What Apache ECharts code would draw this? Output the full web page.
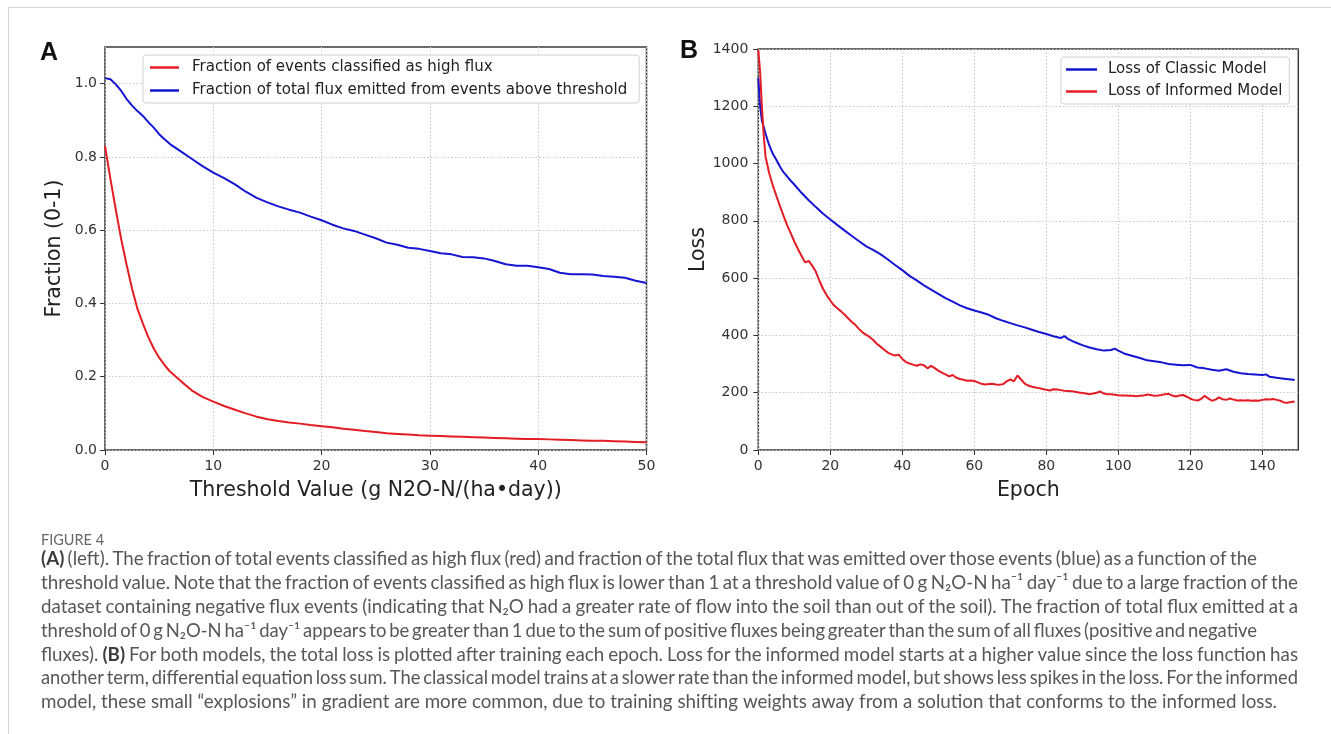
<!DOCTYPE html>
<html>
<head>
<meta charset="utf-8">
<script src="https://cdn.jsdelivr.net/npm/echarts@6/dist/echarts.min.js"></script>
<style>
html,body{margin:0;padding:0;background:#fff;}
#chart{width:1331px;height:734px;}
</style>
</head>
<body>
<div id="chart"></div>
<script>
// ---------- Panel A data ----------
const aThreshold = [0,0.5,1,1.5,2,2.5,3,3.5,4,4.5,5,5.5,6,7,8,9,10,11,12,13,14,15,16,17,18,19,20,21,22,23,24,25,26,27,28,29,30,31,32,33,34,35,36,37,38,39,40,41,42,43,44,45,46,47,48,49,50];
const aHighFluxFrac = [0.83,0.74,0.655,0.575,0.505,0.44,0.385,0.345,0.308,0.277,0.252,0.232,0.214,0.188,0.163,0.145,0.132,0.12,0.11,0.1,0.091,0.084,0.079,0.075,0.072,0.068,0.065,0.062,0.058,0.055,0.052,0.049,0.046,0.044,0.042,0.040,0.039,0.038,0.037,0.036,0.035,0.034,0.033,0.032,0.031,0.030,0.030,0.029,0.028,0.027,0.026,0.025,0.025,0.024,0.023,0.022,0.021];
const aTotalFluxFrac = [1.015,1.012,0.998,0.98,0.958,0.94,0.925,0.912,0.895,0.88,0.862,0.848,0.835,0.815,0.795,0.775,0.757,0.742,0.725,0.705,0.688,0.676,0.665,0.656,0.648,0.637,0.627,0.615,0.605,0.598,0.588,0.578,0.566,0.56,0.552,0.549,0.543,0.537,0.534,0.527,0.526,0.523,0.516,0.507,0.503,0.503,0.499,0.494,0.484,0.48,0.48,0.479,0.475,0.473,0.47,0.462,0.456];
const aXTicks = [0,10,20,30,40,50];
const aYTicks = [0,0.2,0.4,0.6,0.8,1.0];

// ---------- Panel B data ----------
const bClassicEpoch = [0,0.5,1,2,3,4,5,6,7,8,9,10,12,14,16,18,20,22,24,26,28,30,32,34,36,38,40,42,44,46,48,50,52,54,56,58,60,62,64,66,68,70,72,74,76,78,80,82,84,85,86,88,90,92,94,96,98,99,100,102,104,106,108,110,112,114,116,118,120,122,124,126,128,130,132,134,136,138,140,141,142,144,146,148,149];
const bClassicLoss = [1300,1200,1150,1105,1065,1035,1013,990,970,955,940,927,898,872,848,825,805,785,766,747,729,711,698,683,665,646,628,608,592,575,560,545,530,518,505,495,487,480,472,460,451,443,435,428,420,412,405,397,391,398,388,376,366,358,352,347,349,354,347,335,328,321,313,310,306,300,298,296,297,288,285,280,277,282,273,268,265,264,262,264,256,252,249,246,244];
const bInformedEpoch = [0,0.5,1,1.5,2,3,4,5,6,7,8,9,10,11,12,13,14,15,16,17,18,19,20,21,22,23,24,25,26,27,28,29,30,31,32,33,34,35,36,37,38,39,40,41,42,43,44,45,46,47,48,49,50,51,52,53,54,55,56,57,58,59,60,61,62,63,64,65,66,67,68,69,70,71,72,73,74,75,76,77,78,79,80,81,82,83,84,85,86,87,88,89,90,91,92,93,94,95,96,97,98,99,100,101,102,103,104,105,106,107,108,109,110,111,112,113,114,115,116,117,118,119,120,121,122,123,124,125,126,127,128,129,130,131,132,133,134,135,136,137,138,139,140,141,142,143,144,145,146,147,148,149];
const bInformedLoss = [1397,1320,1200,1100,1025,968,925,888,852,818,785,757,728,702,678,655,660,643,622,590,562,540,522,505,494,484,472,459,447,436,422,410,402,394,383,370,360,350,340,334,330,333,318,307,302,298,294,299,296,285,294,286,277,270,264,257,262,252,248,245,242,243,241,236,231,229,230,231,229,228,230,240,247,240,260,246,232,225,221,218,216,213,210,208,212,211,209,207,206,205,203,201,199,197,195,197,200,204,197,195,195,193,191,190,190,189,189,188,189,190,194,192,189,190,192,195,196,190,187,190,192,186,179,175,173,178,189,180,172,176,184,177,175,180,176,173,174,173,174,172,173,172,175,177,176,178,175,172,166,165,168,169];
const bXTicks = [0,20,40,60,80,100,120,140];
const bYTicks = [0,200,400,600,800,1000,1200,1400];

// ---------- Text ----------
const aLegend = ['Fraction of events classified as high flux','Fraction of total flux emitted from events above threshold'];
const bLegend = ['Loss of Classic Model','Loss of Informed Model'];
const captionTitle = 'FIGURE 4';
const captionLines = [
 '(A) (left). The fraction of total events classified as high flux (red) and fraction of the total flux that was emitted over those events (blue) as a function of the',
 'threshold value. Note that the fraction of events classified as high flux is lower than 1 at a threshold value of 0 g N\u2082O-N ha\u207B\u00B9 day\u207B\u00B9 due to a large fraction of the',
 'dataset containing negative flux events (indicating that N\u2082O had a greater rate of flow into the soil than out of the soil). The fraction of total flux emitted at a',
 'threshold of 0 g N\u2082O-N ha\u207B\u00B9 day\u207B\u00B9 appears to be greater than 1 due to the sum of positive fluxes being greater than the sum of all fluxes (positive and negative',
 'fluxes). (B) For both models, the total loss is plotted after training each epoch. Loss for the informed model starts at a higher value since the loss function has',
 'another term, differential equation loss sum. The classical model trains at a slower rate than the informed model, but shows less spikes in the loss. For the informed',
 'model, these small \u201Cexplosions\u201D in gradient are more common, due to training shifting weights away from a solution that conforms to the informed loss.'
];
const captionEnds = [1257,1298,1298,1257,1298,1298,1277];
const boldWords = ['(A)','(B)'];

const zip = (xs, ys) => xs.map((x, i) => [x, ys[i]]);

const FONT = 'DejaVu Sans';
const CAP_FONT = 'Lato';
const TICK_COLOR = '#333';

function axisCommon(extra) {
  return Object.assign({
    type: 'value',
    axisLine: {show: false},
    splitLine: {show: true, lineStyle: {color: '#c8c8c8', type: [1.5, 2], width: 1}},
    nameLocation: 'middle',
    nameTextStyle: {fontFamily: FONT, fontSize: 20.5, color: '#222'}
  }, extra);
}
function labelStyle(margin, values, formatter) {
  const s = {fontFamily: FONT, fontSize: 14, color: TICK_COLOR, margin: margin, customValues: values};
  if (formatter) s.formatter = formatter;
  return s;
}
function tickStyle(values) {
  return {show: true, length: 5, lineStyle: {color: '#333', width: 1}, customValues: values};
}

// caption layout (word justification)
const measureCtx = document.createElement('canvas').getContext('2d');
function fontStr(bold, fs) { return (bold ? 'bold ' : '') + fs + 'px ' + CAP_FONT; }
const left = 41;
function naturalWidth(line, fs) {
  measureCtx.font = fontStr(false, fs);
  return measureCtx.measureText(line).width;
}
// base size: the last (unjustified) line fits its width with normal word spacing
const baseFs = 16.5 * (captionEnds[6] - left) / naturalWidth(captionLines[6], 16.5);
const captionGraphics = [];
const lineYs = [559, 583, 607, 631, 655, 678, 702];
captionLines.forEach((line, li) => {
  const words = line.split(' ');
  let fs = baseFs;
  let widths, total, gap;
  for (let iter = 0; iter < 40; iter++) {
    widths = words.map(w => { measureCtx.font = fontStr(boldWords.includes(w), fs); return measureCtx.measureText(w).width; });
    total = widths.reduce((a, b) => a + b, 0);
    gap = (captionEnds[li] - left - total) / (words.length - 1);
    if (gap >= 2.8) break;
    fs -= 0.1;
  }
  let x = left;
  words.forEach((w, wi) => {
    const b = boldWords.includes(w);
    captionGraphics.push({
      type: 'text', x: x, y: lineYs[li], silent: true,
      style: {text: w, font: fontStr(b, fs), fill: b ? '#3c3c3c' : '#575757', verticalAlign: 'middle', align: 'left'}
    });
    x += widths[wi] + gap;
  });
});

const chart = echarts.init(document.getElementById('chart'), null, {renderer: 'canvas'});
const option = {
  backgroundColor: '#fff',
  animation: false,
  grid: [
    {left: 105, top: 47, width: 541.5, height: 403, show: true, borderColor: '#3a3a3a', borderWidth: 1.5, backgroundColor: 'transparent'},
    {left: 758.3, top: 49, width: 540, height: 401, show: true, borderColor: '#3a3a3a', borderWidth: 1.5, backgroundColor: 'transparent'}
  ],
  xAxis: [
    axisCommon({gridIndex: 0, min: 0, max: 50, interval: 10, name: 'Threshold Value (g N2O-N/(ha\u2022day))', nameGap: 30,
      axisLabel: labelStyle(9, aXTicks), axisTick: tickStyle(aXTicks)}),
    axisCommon({gridIndex: 1, min: 0, max: 150, interval: 20, name: 'Epoch', nameGap: 30,
      axisLabel: labelStyle(9, bXTicks), axisTick: tickStyle(bXTicks)})
  ],
  yAxis: [
    axisCommon({gridIndex: 0, min: 0, max: 1.1, interval: 0.2, name: 'Fraction (0-1)', nameGap: 40,
      axisLabel: labelStyle(8, aYTicks, v => v.toFixed(1)), axisTick: tickStyle(aYTicks)}),
    axisCommon({gridIndex: 1, min: 0, max: 1400, interval: 200, name: 'Loss', nameGap: 49,
      axisLabel: labelStyle(10, bYTicks, v => String(Math.round(v))), axisTick: tickStyle(bYTicks)})
  ],
  legend: [
    {data: aLegend, orient: 'vertical', left: 143, top: 55, padding: [5, 12, 5, 7], itemGap: 8,
     itemWidth: 29, itemHeight: 2.5, icon: 'rect', selectedMode: false,
     backgroundColor: 'rgba(255,255,255,0.9)', borderColor: '#d0d0d0', borderWidth: 1, borderRadius: 3,
     textStyle: {fontFamily: FONT, fontSize: 15, color: '#222', lineHeight: 15, padding: [0, 0, 0, 8]}},
    {data: bLegend, orient: 'vertical', left: 1061, top: 57, padding: [5, 7, 5, 5], itemGap: 7,
     itemWidth: 31, itemHeight: 2.5, icon: 'rect', selectedMode: false,
     backgroundColor: 'rgba(255,255,255,0.9)', borderColor: '#d0d0d0', borderWidth: 1, borderRadius: 3,
     textStyle: {fontFamily: FONT, fontSize: 15, color: '#222', lineHeight: 15, padding: [0, 0, 0, 6]}}
  ],
  series: [
    {name: aLegend[0], type: 'line', xAxisIndex: 0, yAxisIndex: 0, data: zip(aThreshold, aHighFluxFrac),
     symbol: 'none', lineStyle: {width: 2, color: '#e41c24'}, itemStyle: {color: '#e41c24'}},
    {name: aLegend[1], type: 'line', xAxisIndex: 0, yAxisIndex: 0, data: zip(aThreshold, aTotalFluxFrac),
     symbol: 'none', lineStyle: {width: 2, color: '#1414d2'}, itemStyle: {color: '#1414d2'}},
    {name: bLegend[0], type: 'line', xAxisIndex: 1, yAxisIndex: 1, data: zip(bClassicEpoch, bClassicLoss),
     symbol: 'none', lineStyle: {width: 2, color: '#1414d2'}, itemStyle: {color: '#1414d2'}},
    {name: bLegend[1], type: 'line', xAxisIndex: 1, yAxisIndex: 1, data: zip(bInformedEpoch, bInformedLoss),
     symbol: 'none', lineStyle: {width: 2, color: '#e41c24'}, itemStyle: {color: '#e41c24'}}
  ],
  graphic: [
    {type: 'rect', silent: true, z: -10, shape: {x: 8.5, y: 7.5, width: 1400, height: 800}, style: {fill: 'none', stroke: '#d4d4d4', lineWidth: 1}},
    {type: 'text', x: 40, y: 53, silent: true, style: {text: 'A', font: 'bold 25px "Liberation Sans"', fill: '#111', verticalAlign: 'middle'}},
    {type: 'text', x: 680, y: 51, silent: true, style: {text: 'B', font: 'bold 25px "Liberation Sans"', fill: '#111', verticalAlign: 'middle'}},
    {type: 'text', x: 41, y: 540, silent: true, style: {text: captionTitle, font: '14.5px ' + CAP_FONT, fill: '#666', verticalAlign: 'middle'}}
  ].concat(captionGraphics)
};
chart.setOption(option);
</script>
</body>
</html>
